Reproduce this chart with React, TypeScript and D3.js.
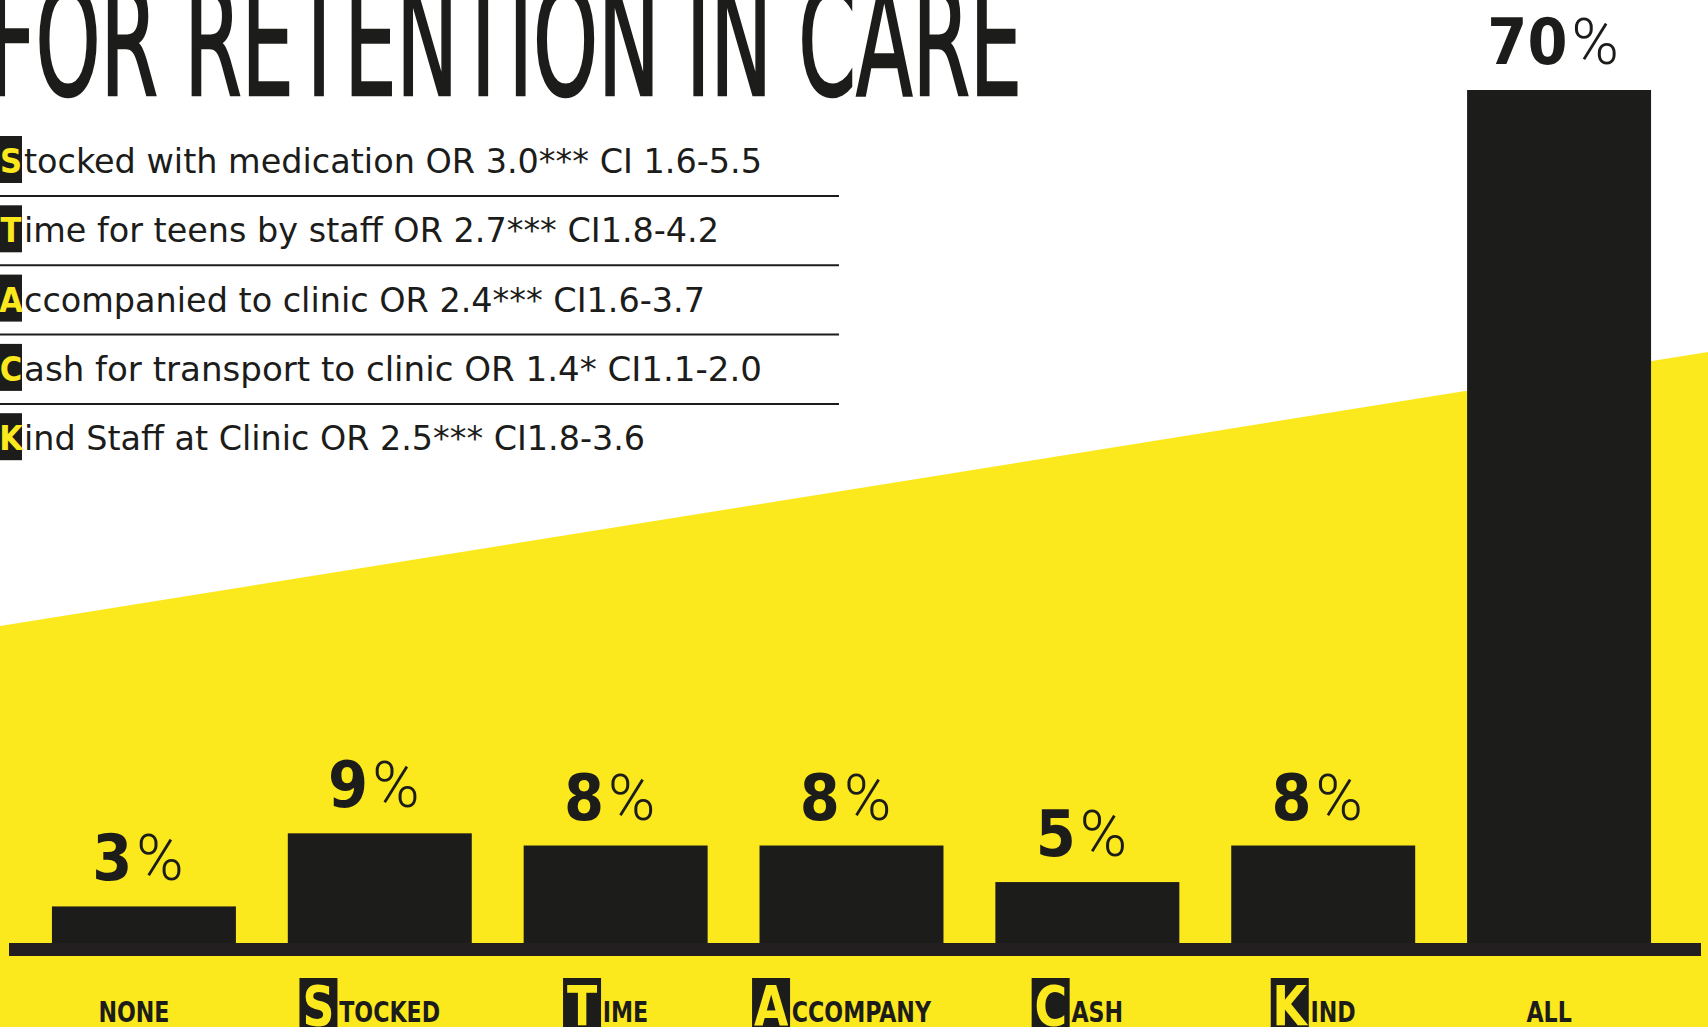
import React, { useEffect, useRef } from 'react';
import * as d3 from 'd3';

// chart data
const categories = ['NONE', 'STOCKED', 'TIME', 'ACCOMPANY', 'CASH', 'KIND', 'ALL'];
const highlighted = [false, true, true, true, true, true, false];
const percents = [3, 9, 8, 8, 5, 8, 70];

const titleText = 'FOR RETENTION IN CARE';

const legendLetters = ['S', 'T', 'A', 'C', 'K'];
const legendTexts = [
  'tocked with medication OR 3.0*** CI 1.6-5.5',
  'ime for teens by staff OR 2.7*** CI1.8-4.2',
  'ccompanied to clinic OR 2.4*** CI1.6-3.7',
  'ash for transport to clinic OR 1.4* CI1.1-2.0',
  'ind Staff at Clinic OR 2.5*** CI1.8-3.6',
];
const legendWidths = [738, 695, 681, 738, 621];

const W = 1708;
const H = 1027;
const YELLOW = '#fbe91e';
const INK = '#1c1c1a';
const COND = '"DejaVu Sans Condensed", "Liberation Sans Narrow", "DejaVu Sans", sans-serif';
const LIGHT = 'Roboto, "Open Sans", sans-serif';
const SQUEEZE = 0.88; // narrow the category labels a little

const App: React.FC = () => {
  const ref = useRef<SVGSVGElement>(null);

  useEffect(() => {
    const svg = d3.select(ref.current);
    svg.selectAll('*').remove();

    // background
    svg.append('rect').attr('width', W).attr('height', H).attr('fill', '#fff');
    svg
      .append('path')
      .attr('d', `M0,626 L${W},352 L${W},${H} L0,${H} Z`)
      .attr('fill', YELLOW);

    // title
    svg
      .append('text')
      .attr('x', -12)
      .attr('y', 95)
      .attr('font-family', COND)
      .attr('font-size', 152)
      .attr('fill', INK)
      .attr('stroke', INK)
      .attr('stroke-width', 2.5)
      .attr('textLength', 1034)
      .attr('lengthAdjust', 'spacingAndGlyphs')
      .text(titleText);

    // legend list
    const rowY = (i: number) => 173 + i * 69.3;
    const legend = svg.append('g');
    legendLetters.forEach((l, i) => {
      const y = rowY(i);
      legend
        .append('rect')
        .attr('x', 0)
        .attr('y', y - 37)
        .attr('width', 22)
        .attr('height', 47)
        .attr('fill', INK);
      legend
        .append('text')
        .attr('x', 11)
        .attr('y', y)
        .attr('text-anchor', 'middle')
        .attr('font-family', COND)
        .attr('font-weight', 700)
        .attr('font-size', 34)
        .attr('fill', YELLOW)
        .text(l);
      legend
        .append('text')
        .attr('x', 24)
        .attr('y', y)
        .attr('font-family', COND)
        .attr('font-size', 34)
        .attr('fill', INK)
        .attr('textLength', legendWidths[i])
        .attr('lengthAdjust', 'spacingAndGlyphs')
        .text(legendTexts[i]);
      if (i < legendLetters.length - 1) {
        legend
          .append('line')
          .attr('x1', 0)
          .attr('x2', 839)
          .attr('y1', y + 23)
          .attr('y2', y + 23)
          .attr('stroke', INK)
          .attr('stroke-width', 2);
      }
    });

    // scales
    const x = d3
      .scaleBand<string>()
      .domain(categories)
      .range([26, 1677])
      .paddingInner(0.22)
      .paddingOuter(0.11);
    const y = d3.scaleLinear().domain([0, 70]).range([943, 90]);

    // bars
    svg
      .append('g')
      .selectAll('rect')
      .data(categories)
      .join('rect')
      .attr('x', (d) => x(d)!)
      .attr('y', (d, i) => y(percents[i]))
      .attr('width', x.bandwidth())
      .attr('height', (d, i) => y(0) - y(percents[i]) + 6)
      .attr('fill', INK);

    // baseline
    svg
      .append('rect')
      .attr('x', 9)
      .attr('y', 943)
      .attr('width', 1692)
      .attr('height', 13)
      .attr('fill', '#231f20');

    // value labels
    const vl = svg
      .append('g')
      .selectAll('text')
      .data(categories)
      .join('text')
      .attr('x', (d) => x(d)! + x.bandwidth() / 2 - 6)
      .attr('y', (d, i) => y(percents[i]) - 26)
      .attr('text-anchor', 'middle')
      .attr('font-size', 64)
      .attr('fill', INK);
    vl.append('tspan')
      .attr('font-family', COND)
      .attr('font-weight', 700)
      .text((d, i) => String(percents[i]));
    vl.append('tspan')
      .attr('dx', 4)
      .attr('font-family', LIGHT)
      .attr('font-weight', 300)
      .text('%');

    // category labels
    categories.forEach((c, i) => {
      const cx = x(c)! + x.bandwidth() / 2 - 10;
      const g = svg.append('g').attr('transform', `translate(${cx},0) scale(${SQUEEZE},1)`);
      if (!highlighted[i]) {
        g.append('text')
          .attr('x', 0)
          .attr('y', 1022)
          .attr('text-anchor', 'middle')
          .attr('font-family', COND)
          .attr('font-weight', 700)
          .attr('font-size', 28)
          .attr('fill', INK)
          .text(c);
        return;
      }
      const rest = g
        .append('text')
        .attr('y', 1022)
        .attr('font-family', COND)
        .attr('font-weight', 700)
        .attr('font-size', 28)
        .attr('fill', INK)
        .text(c.slice(1));
      const rw = (rest.node() as SVGTextElement).getComputedTextLength();
      const boxW = 38 / SQUEEZE;
      const total = boxW + 2 + rw;
      const left = -total / 2;
      g.append('rect')
        .attr('x', left)
        .attr('y', 978)
        .attr('width', boxW)
        .attr('height', H - 978)
        .attr('fill', INK);
      g.append('text')
        .attr('x', left + boxW / 2)
        .attr('y', 1025)
        .attr('text-anchor', 'middle')
        .attr('font-family', COND)
        .attr('font-weight', 700)
        .attr('font-size', 56)
        .attr('fill', YELLOW)
        .text(c[0]);
      rest.attr('x', left + boxW + 2);
    });
  }, []);

  return (
    <div style={{ position: 'absolute', left: 0, top: 0, width: W, height: H, overflow: 'hidden' }}>
      <svg ref={ref} width={W} height={H} style={{ display: 'block' }} />
    </div>
  );
};

export default App;
